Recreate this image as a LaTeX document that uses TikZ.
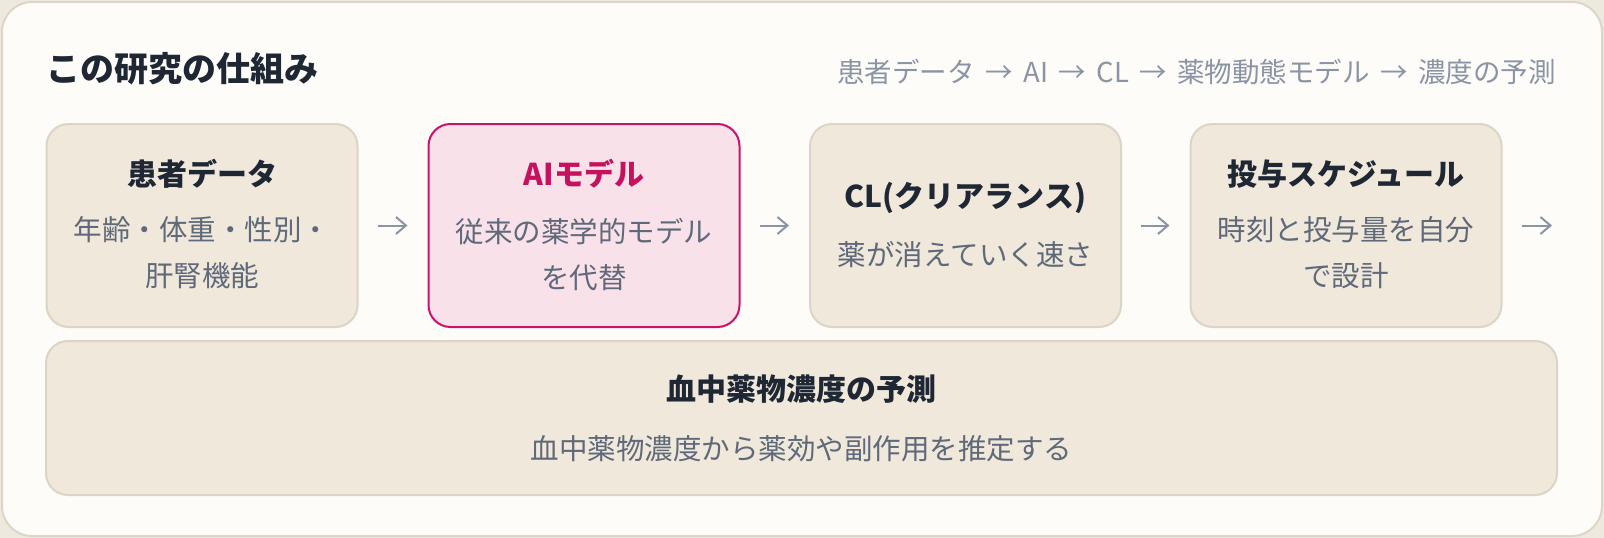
\documentclass[tikz,border=0pt]{standalone}
\usepackage{fontspec}
\setmainfont{Noto Sans CJK JP}
\usetikzlibrary{arrows.meta}
\definecolor{page}{HTML}{EEE9DF}
\definecolor{card}{HTML}{FDFCF9}
\definecolor{cardline}{HTML}{DDD6C8}
\definecolor{boxfill}{HTML}{EFE8DB}
\definecolor{boxline}{HTML}{DCD4C4}
\definecolor{ink}{HTML}{1E2733}
\definecolor{subink}{HTML}{5F6979}
\definecolor{muted}{HTML}{8B94A4}
\definecolor{aifill}{HTML}{F9E1EA}
\definecolor{ailine}{HTML}{C8146A}
\definecolor{aiink}{HTML}{C4125F}
\newcommand{\rsep}{\hspace{0.38em}→\hspace{0.38em}}
\begin{document}
\begin{tikzpicture}[x=1pt, y=-1pt,
  box/.style={draw=boxline, fill=boxfill, line width=2pt, rounded corners=22pt, minimum width=311pt, minimum height=203pt, inner sep=0pt},
  aibox/.style={box, draw=ailine, fill=aifill},
  head/.style={font=\fontsize{30}{36}\selectfont\bfseries, text=ink, inner sep=0pt},
  body/.style={font=\fontsize{28.5}{46}\selectfont, text=subink, align=center, inner sep=0pt},
  flow/.style={draw=muted, line width=2pt, -{Straight Barb[length=10pt,width=17pt]}, shorten <=19pt, shorten >=20pt}]

      \useasboundingbox (0,0) rectangle (1604,538);
      \fill [page] (0,0) rectangle (1604,538);
      \draw [draw=cardline, fill=card, line width=2pt, rounded corners=30pt] (2,2) rectangle (1602,536);

      \node [anchor=west, inner sep=0pt, text=ink, font=\fontsize{34}{40}\selectfont\bfseries] (title) at (46,69) {この研究の仕組み};
      \node [anchor=east, inner sep=0pt, text=muted, font=\fontsize{27.5}{32}\selectfont] (route) at (1556,72) {患者データ\rsep AI\rsep CL\rsep 薬物動態モデル\rsep 濃度の予測};

      \node [box] (patient) at (202,225.5) {};
      \node [aibox] (ai) at (584,225.5) {};
      \node [box] (cl) at (965.5,225.5) {};
      \node [box] (dose) at (1346,225.5) {};
      \node [box, minimum width=1511pt, minimum height=154pt] (conc) at (801.5,418) {};
      \coordinate (out) at (1572,225.5);

      \node [head] (patient-t) at (202,174) {患者データ};
      \node [body] (patient-b) at (202,253) {年齢・体重・性別・\\肝腎機能};
      \node [head, text=aiink] (ai-t) at (584,174) {AIモデル};
      \node [body] (ai-b) at (584,254.5) {従来の薬学的モデル\\を代替};
      \node [head] (cl-t) at (965.5,198) {CL(クリアランス)};
      \node [body] (cl-b) at (965.5,255) {薬が消えていく速さ};
      \node [head] (dose-t) at (1346,174) {投与スケジュール};
      \node [body] (dose-b) at (1346,253) {時刻と投与量を自分\\で設計};
      \node [head] (conc-t) at (801.5,389) {血中薬物濃度の予測};
      \node [body] (conc-b) at (801.5,449) {血中薬物濃度から薬効や副作用を推定する};

      \draw [flow] (patient.east) -- (ai.west);
      \draw [flow] (ai.east) -- (cl.west);
      \draw [flow] (cl.east) -- (dose.west);
      \draw [flow] (dose.east) -- (out);
    \end{tikzpicture}
\end{document}
